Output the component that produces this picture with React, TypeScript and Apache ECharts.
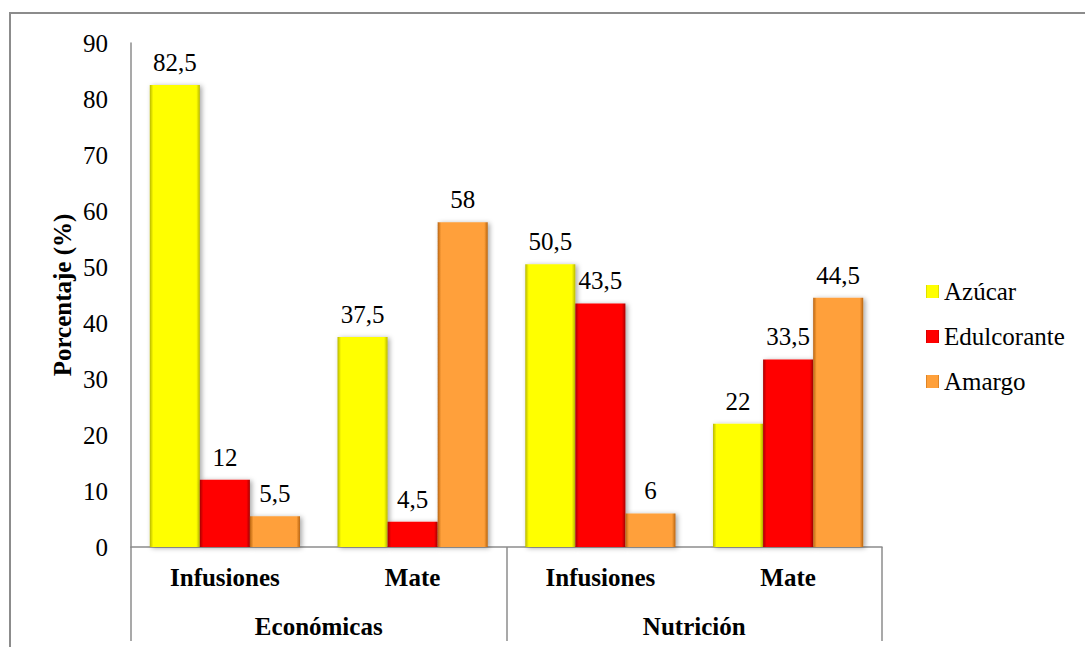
import React, { useEffect, useRef } from "react";
import * as echarts from "echarts";

const subCategories = ["Infusiones", "Mate", "Infusiones", "Mate"];
const groups = ["Económicas", "Nutrición"];
const seriesNames = ["Azúcar", "Edulcorante", "Amargo"];
const azucar = [82.5, 37.5, 50.5, 22];
const edulcorante = [12, 4.5, 43.5, 33.5];
const amargo = [5.5, 58, 6, 44.5];
const yTicks = { min: 0, max: 90, interval: 10 };
const yTitle = "Porcentaje (%)";

const FONT = "Liberation Serif";

// base colour, darker edge colour
const palette: [string, string][] = [
  ["#ffff00", "#b8b800"],
  ["#ff0000", "#a80000"],
  ["#ffa03a", "#b86410"],
];

function bevel(base: string, edge: string) {
  return new echarts.graphic.LinearGradient(0, 0, 1, 0, [
    { offset: 0, color: edge },
    { offset: 0.07, color: base },
    { offset: 0.93, color: base },
    { offset: 1, color: edge },
  ]);
}

export default function App() {
  const ref = useRef<HTMLDivElement>(null);

  useEffect(() => {
    const el = ref.current;
    if (!el) return;
    const chart = echarts.init(el, null, { renderer: "svg" });
    const values = [azucar, edulcorante, amargo];

    chart.setOption({
      animation: false,
      backgroundColor: "#ffffff",
      graphic: [
        {
          type: "rect",
          shape: { x: 10, y: 13, width: 1100, height: 700 },
          style: { fill: "none", stroke: "#8c8c8c", lineWidth: 2 },
        },
        {
          type: "text",
          x: 62,
          y: 295,
          rotation: Math.PI / 2,
          style: {
            text: yTitle,
            fontFamily: FONT,
            fontSize: 25,
            fontWeight: "bold",
            fill: "#000",
            align: "center",
            verticalAlign: "middle",
          },
        },
      ],
      grid: { left: 131, right: 203, top: 43, bottom: 100 },
      legend: {
        orient: "vertical",
        left: 921,
        top: 274,
        itemWidth: 13,
        itemHeight: 13,
        itemGap: 20,
        icon: "rect",
        textStyle: { fontFamily: FONT, fontSize: 25, color: "#000" },
        data: seriesNames,
      },
      xAxis: [
        {
          type: "category",
          position: "bottom",
          data: subCategories,
          axisLine: { show: true, lineStyle: { color: "#8c8c8c", width: 1.5 } },
          axisTick: { show: false },
          axisLabel: {
            interval: 0,
            margin: 18,
            fontFamily: FONT,
            fontSize: 25,
            fontWeight: "bold",
            color: "#000",
          },
        },
        {
          type: "category",
          position: "bottom",
          data: groups,
          axisLine: { show: false },
          axisTick: {
            show: true,
            length: 94,
            lineStyle: { color: "#8c8c8c", width: 1.5 },
          },
          axisLabel: {
            interval: 0,
            margin: 67,
            fontFamily: FONT,
            fontSize: 25,
            fontWeight: "bold",
            color: "#000",
          },
        },
      ],
      yAxis: {
        type: "value",
        min: yTicks.min,
        max: yTicks.max,
        interval: yTicks.interval,
        axisLine: { show: true, lineStyle: { color: "#8c8c8c", width: 1.5 } },
        axisTick: { show: false },
        splitLine: { show: false },
        axisLabel: { margin: 23, fontFamily: FONT, fontSize: 25, color: "#000" },
      },
      series: seriesNames.map((name, i) => ({
        name,
        type: "bar",
        data: values[i],
        barGap: "0%",
        barCategoryGap: "20%",
        itemStyle: {
          color: bevel(palette[i][0], palette[i][1]),
          shadowBlur: 5,
          shadowColor: "rgba(0,0,0,0.35)",
          shadowOffsetX: 2,
          shadowOffsetY: 1,
        },
        label: {
          show: true,
          position: "top",
          distance: 10,
          fontFamily: FONT,
          fontSize: 25,
          color: "#000",
          formatter: (p: any) => String(p.value).replace(".", ","),
        },
      })),
    });

    return () => chart.dispose();
  }, []);

  return (
    <div
      ref={ref}
      style={{ position: "fixed", left: 0, top: 0, width: 1085, height: 647 }}
    />
  );
}
